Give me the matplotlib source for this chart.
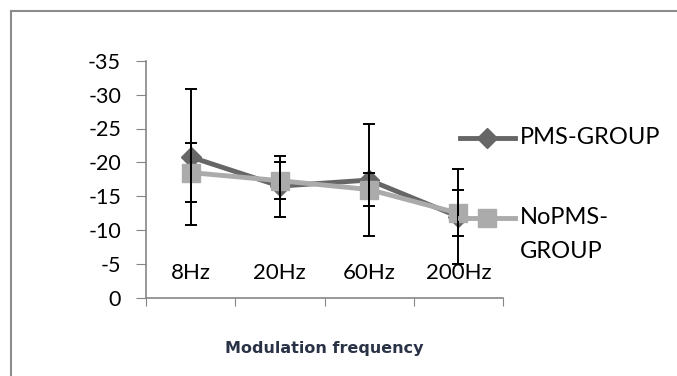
import matplotlib.pyplot as plt
from matplotlib.lines import Line2D

# data
freqs = ['8Hz', '20Hz', '60Hz', '200Hz']
pms_mean = [-20.8, -16.5, -17.4, -12.0]
pms_err = [10.0, 4.5, 8.2, 7.0]
nopms_mean = [-18.5, -17.3, -16.0, -12.5]
nopms_err = [4.3, 2.7, 2.5, 3.4]

W, H = 677, 376
plt.rcParams['font.family'] = ['Lato', 'DejaVu Sans']

fig = plt.figure(figsize=(W / 100, H / 100), dpi=100)
ax = fig.add_axes([146 / W, 1 - 298 / H, (503 - 146) / W, (298 - 60.7) / H])

x = list(range(len(freqs)))
pms_col = '#666666'
nopms_col = '#ababab'

ax.plot(x, pms_mean, color=pms_col, lw=3.5, marker='D', ms=10, zorder=3)
ax.plot(x, nopms_mean, color=nopms_col, lw=3.5, marker='s', ms=13, zorder=4)
ax.errorbar(x, pms_mean, yerr=pms_err, fmt='none', ecolor='black',
            elinewidth=1.4, capsize=4, capthick=1.4, zorder=5)
ax.errorbar(x, nopms_mean, yerr=nopms_err, fmt='none', ecolor='black',
            elinewidth=1.4, capsize=4, capthick=1.4, zorder=5)

ax.set_ylim(0, -35)
ax.set_xlim(-0.5, len(freqs) - 0.5)
ax.set_yticks(range(0, -40, -5))
ax.set_yticklabels([str(v) for v in range(0, -40, -5)], fontsize=15.5)
ax.set_xticks([i - 0.5 for i in range(len(freqs) + 1)])
ax.set_xticklabels([])
ax.tick_params(axis='x', direction='out', length=6, color='#868686')
ax.tick_params(axis='y', direction='out', length=7, color='#868686', pad=11)
for s in ['top', 'right']:
    ax.spines[s].set_visible(False)
for s in ['left', 'bottom']:
    ax.spines[s].set_color('#868686')
    ax.spines[s].set_linewidth(1.2)

# category labels sit inside the plot area
for xi, name in zip(x, freqs):
    ax.text(xi, -3.7, name, ha='center', va='center', fontsize=16, zorder=6)

fig.text(324 / W, 1 - 348 / H, 'Modulation frequency', ha='center', va='center',
         fontsize=11.5, fontweight='bold', color='#2a3346', family='DejaVu Sans')

# legend drawn by hand to match the two-line label
def legend_entry(y, color, marker, ms, label):
    yf = 1 - y / H
    fig.add_artist(Line2D([460 / W, 515 / W], [yf, yf], color=color, lw=3.5))
    fig.add_artist(Line2D([487 / W], [yf], color=color, marker=marker, ms=ms))
    fig.text(520 / W, yf, label, ha='left', va='center', fontsize=17)

legend_entry(138, pms_col, 'D', 10, 'PMS-GROUP')
legend_entry(218, nopms_col, 's', 13, 'NoPMS-')
fig.text(520 / W, 1 - 251 / H, 'GROUP', ha='left', va='center', fontsize=17)

# chart frame: only top and left edges are visible
fig.add_artist(Line2D([11 / W, 1], [1 - 11 / H, 1 - 11 / H], color='#8c8c8c', lw=1.5))
fig.add_artist(Line2D([11 / W, 11 / W], [0, 1 - 11 / H], color='#8c8c8c', lw=1.5))

fig.savefig('out.png', dpi=100)
